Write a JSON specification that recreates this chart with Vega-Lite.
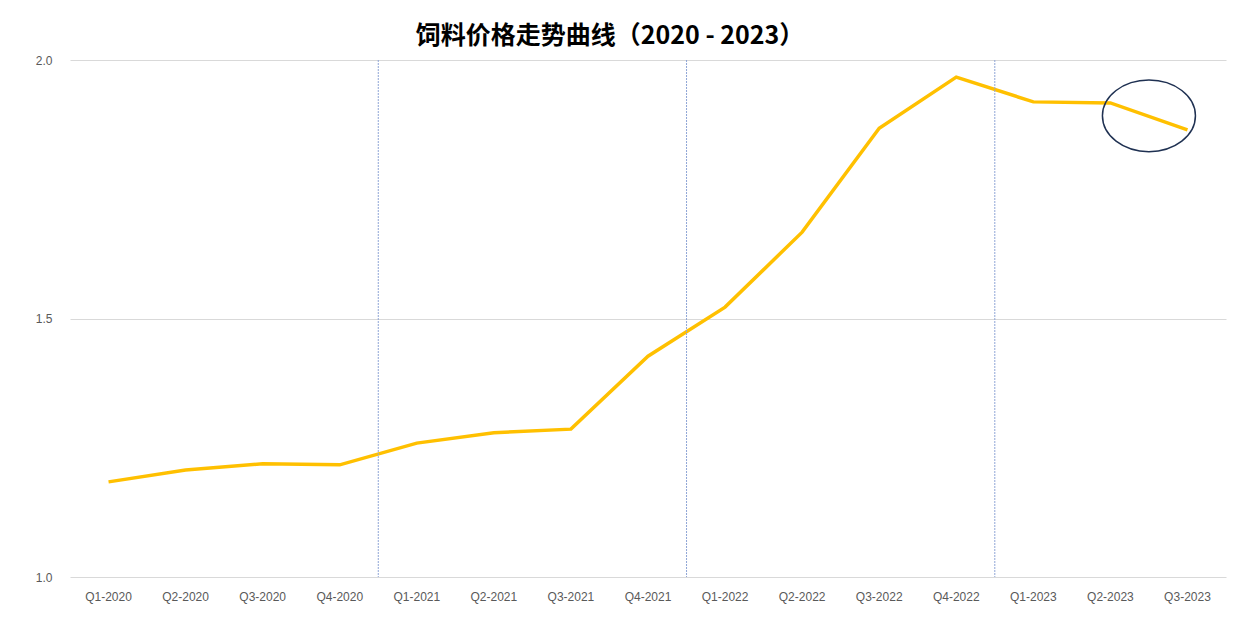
{
  "$schema": "https://vega.github.io/schema/vega-lite/v6.json",
  "width": 1156,
  "height": 517,
  "padding": {"left": 35, "top": 24, "right": 10, "bottom": 5},
  "background": "white",
  "title": {
    "text": "饲料价格走势曲线（2020 - 2023）",
    "font": "Noto Sans CJK SC",
    "fontSize": 25,
    "fontWeight": "bold",
    "color": "#000000",
    "anchor": "middle",
    "dx": -38,
    "offset": 5
  },
  "config": {
    "view": {"stroke": null},
    "axis": {"labelFont": "Liberation Sans", "labelFontSize": 12, "labelColor": "#595959", "domain": false, "ticks": false, "title": null},
    "axisX": {"labelPadding": 14, "labelAngle": 0, "grid": false},
    "axisY": {"labelPadding": 18, "gridColor": "#D9D9D9", "gridWidth": 1}
  },
  "datasets": {
    "price": [
      {"q": "Q1-2020", "v": 1.184},
      {"q": "Q2-2020", "v": 1.207},
      {"q": "Q3-2020", "v": 1.219},
      {"q": "Q4-2020", "v": 1.217},
      {"q": "Q1-2021", "v": 1.259},
      {"q": "Q2-2021", "v": 1.279},
      {"q": "Q3-2021", "v": 1.286},
      {"q": "Q4-2021", "v": 1.427},
      {"q": "Q1-2022", "v": 1.522},
      {"q": "Q2-2022", "v": 1.667},
      {"q": "Q3-2022", "v": 1.868},
      {"q": "Q4-2022", "v": 1.967},
      {"q": "Q1-2023", "v": 1.919},
      {"q": "Q2-2023", "v": 1.917},
      {"q": "Q3-2023", "v": 1.865}
    ],
    "years": [
      {"q": "Q1-2021"},
      {"q": "Q1-2022"},
      {"q": "Q1-2023"}
    ],
    "mark": [
      {"q": "Q3-2023", "v": 1.892}
    ]
  },
  "encoding": {
    "x": {"field": "q", "type": "nominal",
          "scale": {"type": "band", "paddingInner": 0, "paddingOuter": 0,
                    "domain": ["Q1-2020","Q2-2020","Q3-2020","Q4-2020","Q1-2021","Q2-2021","Q3-2021","Q4-2021","Q1-2022","Q2-2022","Q3-2022","Q4-2022","Q1-2023","Q2-2023","Q3-2023"]},
          "axis": {"title": null, "labelAngle": 0, "domain": false, "ticks": false, "labelPadding": 14, "grid": false,
                   "labelFont": "Liberation Sans", "labelFontSize": 12, "labelColor": "#595959"}}
  },
  "layer": [
    {
      "data": {"name": "price"},
      "mark": {"type": "line", "color": "#FFC000", "strokeWidth": 3.5, "strokeJoin": "miter"},
      "encoding": {
        "x": {"field": "q", "type": "nominal", "bandPosition": 0.5},
        "y": {"field": "v", "type": "quantitative",
              "scale": {"domain": [1, 2], "nice": false, "zero": false},
              "axis": {"title": null, "values": [1, 1.5, 2], "format": ".1f", "domain": false, "ticks": false, "labelPadding": 18, "gridColor": "#D9D9D9", "gridWidth": 1,
                       "labelFont": "Liberation Sans", "labelFontSize": 12, "labelColor": "#595959"}}
      }
    },
    {
      "data": {"name": "years"},
      "mark": {"type": "rule", "color": "#8FA6D6", "strokeWidth": 1, "strokeDash": [2, 1]},
      "encoding": {
        "x": {"field": "q", "type": "nominal", "bandPosition": 0}
      }
    },
    {
      "data": {"name": "mark"},
      "mark": {"type": "point", "shape": "M -1 0 A 1 0.77 0 1 0 1 0 A 1 0.77 0 1 0 -1 0 Z", "filled": false, "stroke": "#1F3152", "strokeWidth": 1.5, "size": 8650, "opacity": 1},
      "encoding": {
        "x": {"field": "q", "type": "nominal", "bandPosition": 0},
        "y": {"field": "v", "type": "quantitative"}
      }
    }
  ]
}
